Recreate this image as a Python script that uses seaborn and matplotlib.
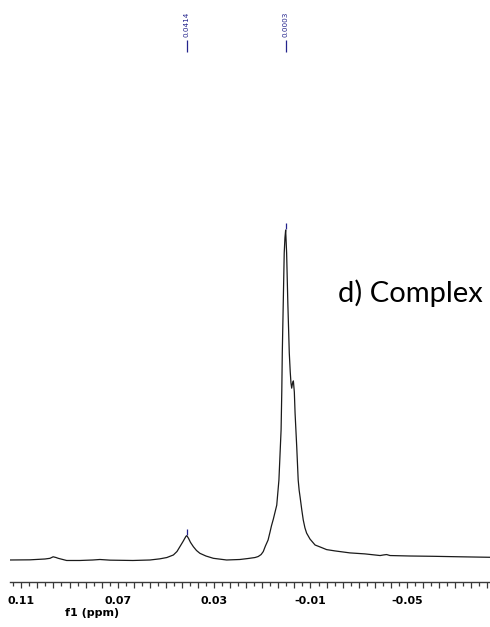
import matplotlib
matplotlib.use("Agg")
import matplotlib.pyplot as plt
import seaborn as sns
import pandas as pd
from matplotlib.ticker import FixedLocator, FixedFormatter

# 1H spectrum trace (chemical shift in ppm, relative intensity)
shift_ppm = [
    0.1147, 0.1064, 0.1002, 0.0981, 0.0968, 0.0956, 0.0947, 0.0912, 0.0857,
    0.0803, 0.0774, 0.0732, 0.0637, 0.0566, 0.0525, 0.0496, 0.0469, 0.0454,
    0.0442, 0.0429, 0.0421, 0.0417, 0.0414, 0.0411, 0.0406, 0.0398, 0.0386,
    0.0373, 0.0359, 0.0334, 0.0303, 0.0248, 0.0193, 0.0159, 0.0130, 0.0117,
    0.0105, 0.0096, 0.0087, 0.0076, 0.0068, 0.0062, 0.0054, 0.0047, 0.0040,
    0.0031, 0.0022, 0.0019, 0.0017, 0.0013, 0.0009, 0.0006, 0.0003, -0.0001,
    -0.0006, -0.0009, -0.0012, -0.0016, -0.0019, -0.0022, -0.0025, -0.0029,
    -0.0033, -0.0036, -0.0043, -0.0049, -0.0053, -0.0057, -0.0064, -0.0070,
    -0.0077, -0.0084, -0.0098, -0.0112, -0.0119, -0.0140, -0.0167, -0.0202,
    -0.0264, -0.0326, -0.0389, -0.0405, -0.0416, -0.0430, -0.0513, -0.0609,
    -0.0721, -0.0845,
]
intensity = [
    -0.15, -0.10, 0.15, 0.36, 0.82, 0.60, 0.36, -0.30, -0.30,
    -0.15, 0.00, -0.20, -0.30, -0.15, 0.20, 0.60, 1.37, 2.43,
    3.88, 5.46, 6.50, 7.00, 7.22, 7.00, 6.40, 5.20, 3.88,
    2.73, 1.88, 1.06, 0.36, -0.15, 0.00, 0.30, 0.60, 0.90,
    1.50, 2.40, 4.10, 5.90, 8.30, 10.20, 12.30, 14.40, 16.50,
    24.10, 39.30, 51.40, 62.70, 77.80, 93.00, 97.60, 100.00, 93.00,
    77.80, 70.30, 62.70, 56.90, 53.60, 52.00, 53.30, 54.20,
    50.80, 44.50, 34.10, 24.10, 21.00, 18.90, 15.00, 12.00,
    9.60, 8.00, 6.20, 5.00, 4.40, 3.80, 3.00, 2.60,
    2.00, 1.70, 1.20, 1.40, 1.50, 1.20, 1.06, 0.97,
    0.82, 0.67,
]

# picked peaks
peak_ppm = [0.0414, 0.0003]
peak_height = [7.22, 100.00]
peak_labels = ["0.0414", "0.0003"]

# axis labels
tick_values = [0.11, 0.07, 0.03, -0.01, -0.05]
tick_labels = ["0.11", "0.07", "0.03", "-0.01", "-0.05"]
axis_title = "f1 (ppm)"
panel_title = "d) Complex"

sns.set_theme(style="white")
plt.rcParams["font.family"] = ["DejaVu Sans"]

W, H = 490, 627
fig = plt.figure(figsize=(W / 100, H / 100), dpi=100)
ax = fig.add_axes([10 / W, 45 / H, 480 / W, 582 / H])

df = pd.DataFrame({"ppm": shift_ppm, "intensity": intensity})
sns.lineplot(data=df, x="ppm", y="intensity", sort=False, estimator=None,
             color="#1a1a1a", linewidth=0.9, ax=ax)

ax.set_xlim(0.1147, -0.0845)
ax.set_ylim(-6.83, 169.8)

for side in ("left", "right", "top"):
    ax.spines[side].set_visible(False)
ax.spines["bottom"].set_color("#3a3a3a")
ax.spines["bottom"].set_linewidth(1.0)

# ticks every 1/300 ppm anchored on the labelled values
tick_pos = [tick_values[0] - k / 300 for k in range(-1, 59)]
major = [t for i, t in enumerate(tick_pos) if (i - 1) % 2 == 0]
minor = [t for i, t in enumerate(tick_pos) if (i - 1) % 2 != 0]
major_text = []
for t in major:
    lab = ""
    for v, s in zip(tick_values, tick_labels):
        if abs(t - v) < 1e-6:
            lab = s
    major_text.append(lab)
ax.xaxis.set_major_locator(FixedLocator(major))
ax.xaxis.set_major_formatter(FixedFormatter(major_text))
ax.xaxis.set_minor_locator(FixedLocator(minor))
ax.tick_params(axis="x", which="major", direction="out", length=4.2, width=0.9,
               color="#3a3a3a", pad=6.0, labelsize=7.9, bottom=True)
ax.tick_params(axis="x", which="minor", direction="out", length=2.6, width=0.9,
               color="#3a3a3a", bottom=True)
for lab in ax.get_xticklabels():
    lab.set_fontweight("bold")
    lab.set_color("black")
ax.set_yticks([])
ax.set_xlabel("")
ax.set_ylabel("")

fig.text(92.5 / W, 1 - 607.5 / H, axis_title, ha="center", va="top",
         fontsize=8, fontweight="bold", color="black")

# peak markers and labels
navy = "#23238c"
px_per_unit = 3.295
for x, h, s in zip(peak_ppm, peak_height, peak_labels):
    ax.vlines(x, h + 0.3, h + 0.3 + 6 / px_per_unit, color=navy, linewidth=0.9)
    ax.vlines(x, 154.0, 157.7, color=navy, linewidth=0.9)
    ax.text(x, 158.6, s, rotation=90, ha="center", va="bottom",
            fontsize=5.2, color=navy)

fig.text(338 / W, 1 - 301.7 / H, panel_title, ha="left", va="baseline",
         fontsize=21, family=["Lato", "DejaVu Sans"], color="black")

fig.savefig("out.png", dpi=100)
